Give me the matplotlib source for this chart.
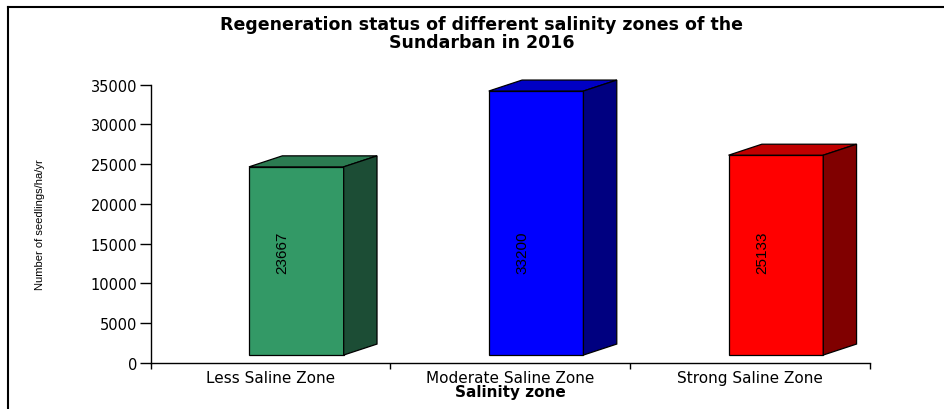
import matplotlib.pyplot as plt
from matplotlib.patches import Polygon
from matplotlib.lines import Line2D

# Seedling counts per salinity zone
zones = ['Less Saline Zone', 'Moderate Saline Zone', 'Strong Saline Zone']
seedlings = [23667, 33200, 25133]

# front / top / side shades for each bar
front_colors = ['#339966', '#0000ff', '#ff0000']
top_colors = ['#2b7b51', '#0000c4', '#c00000']
side_colors = ['#1c4d35', '#000080', '#800000']

title = 'Regeneration status of different salinity zones of the\nSundarban in 2016'
y_ticks = [0, 5000, 10000, 15000, 20000, 25000, 30000, 35000]

narrow = ['Liberation Sans Narrow', 'DejaVu Sans Condensed', 'Liberation Sans']


def draw_box(ax, x0, width, base, height, dx, dy, fc, tc, sc):
    # front face, then top and right side offset by the depth
    x1 = x0 + width
    y1 = base + height
    faces = [
        ([(x0, base), (x1, base), (x1, y1), (x0, y1)], fc),
        ([(x0, y1), (x1, y1), (x1 + dx, y1 + dy), (x0 + dx, y1 + dy)], tc),
        ([(x1, base), (x1 + dx, base + dy), (x1 + dx, y1 + dy), (x1, y1)], sc),
    ]
    for pts, color in faces:
        ax.add_patch(Polygon(pts, closed=True, facecolor=color, edgecolor='black',
                             linewidth=0.9, clip_on=False, zorder=3))


fig = plt.figure(figsize=(9.44, 4.10), dpi=100)
ax = fig.add_axes([0.1596, 0.1122, 0.762, 0.6788])

ax.set_xlim(0, 3)
ax.set_ylim(0, 35000)

# bar geometry in data units
bar_left = 0.41
bar_width = 0.395
base = 1000
depth_x = 0.139
depth_y = 1383

for i, val in enumerate(seedlings):
    draw_box(ax, i + bar_left, bar_width, base, val, depth_x, depth_y,
             front_colors[i], top_colors[i], side_colors[i])
    ax.text(i + 0.55, 14000, str(val), rotation=90, ha='center', va='center',
            fontsize=11, family=narrow, zorder=4)

for side in ['top', 'right']:
    ax.spines[side].set_visible(False)
ax.spines['left'].set_linewidth(1.0)
ax.spines['bottom'].set_linewidth(1.0)

ax.set_yticks(y_ticks)
ax.set_yticklabels([str(t) for t in y_ticks], fontsize=10.5, family='DejaVu Sans')
ax.tick_params(axis='y', direction='out', length=8, width=1, pad=1.5)

# major ticks split the categories, minor ticks carry the names
ax.set_xticks([0, 1, 2, 3])
ax.set_xticklabels([])
ax.tick_params(axis='x', which='major', direction='out', length=4, width=1)
ax.set_xticks([0.5, 1.5, 2.5], minor=True)
ax.set_xticklabels(zones, minor=True, fontsize=11, family='DejaVu Sans')
ax.tick_params(axis='x', which='minor', length=0, pad=5)

ax.set_xlabel('Salinity zone', fontsize=11, fontweight='bold', family='DejaVu Sans', labelpad=-1)
ax.set_ylabel('Number of seedlings/ha/yr', fontsize=8, family=narrow)
ax.yaxis.set_label_coords(-0.147, 0.5)

fig.text(0.51, 0.962, title, ha='center', va='top', fontsize=12.5, fontweight='bold',
         family='DejaVu Sans', linespacing=1.0)

# outer frame: left and top edges only
fig.add_artist(Line2D([8 / 944, 8 / 944], [0, 1 - 8 / 410], color='black', linewidth=1.5,
                      transform=fig.transFigure))
fig.add_artist(Line2D([8 / 944, 1], [1 - 8 / 410, 1 - 8 / 410], color='black', linewidth=1.5,
                      transform=fig.transFigure))

fig.savefig('out.png', dpi=100)
